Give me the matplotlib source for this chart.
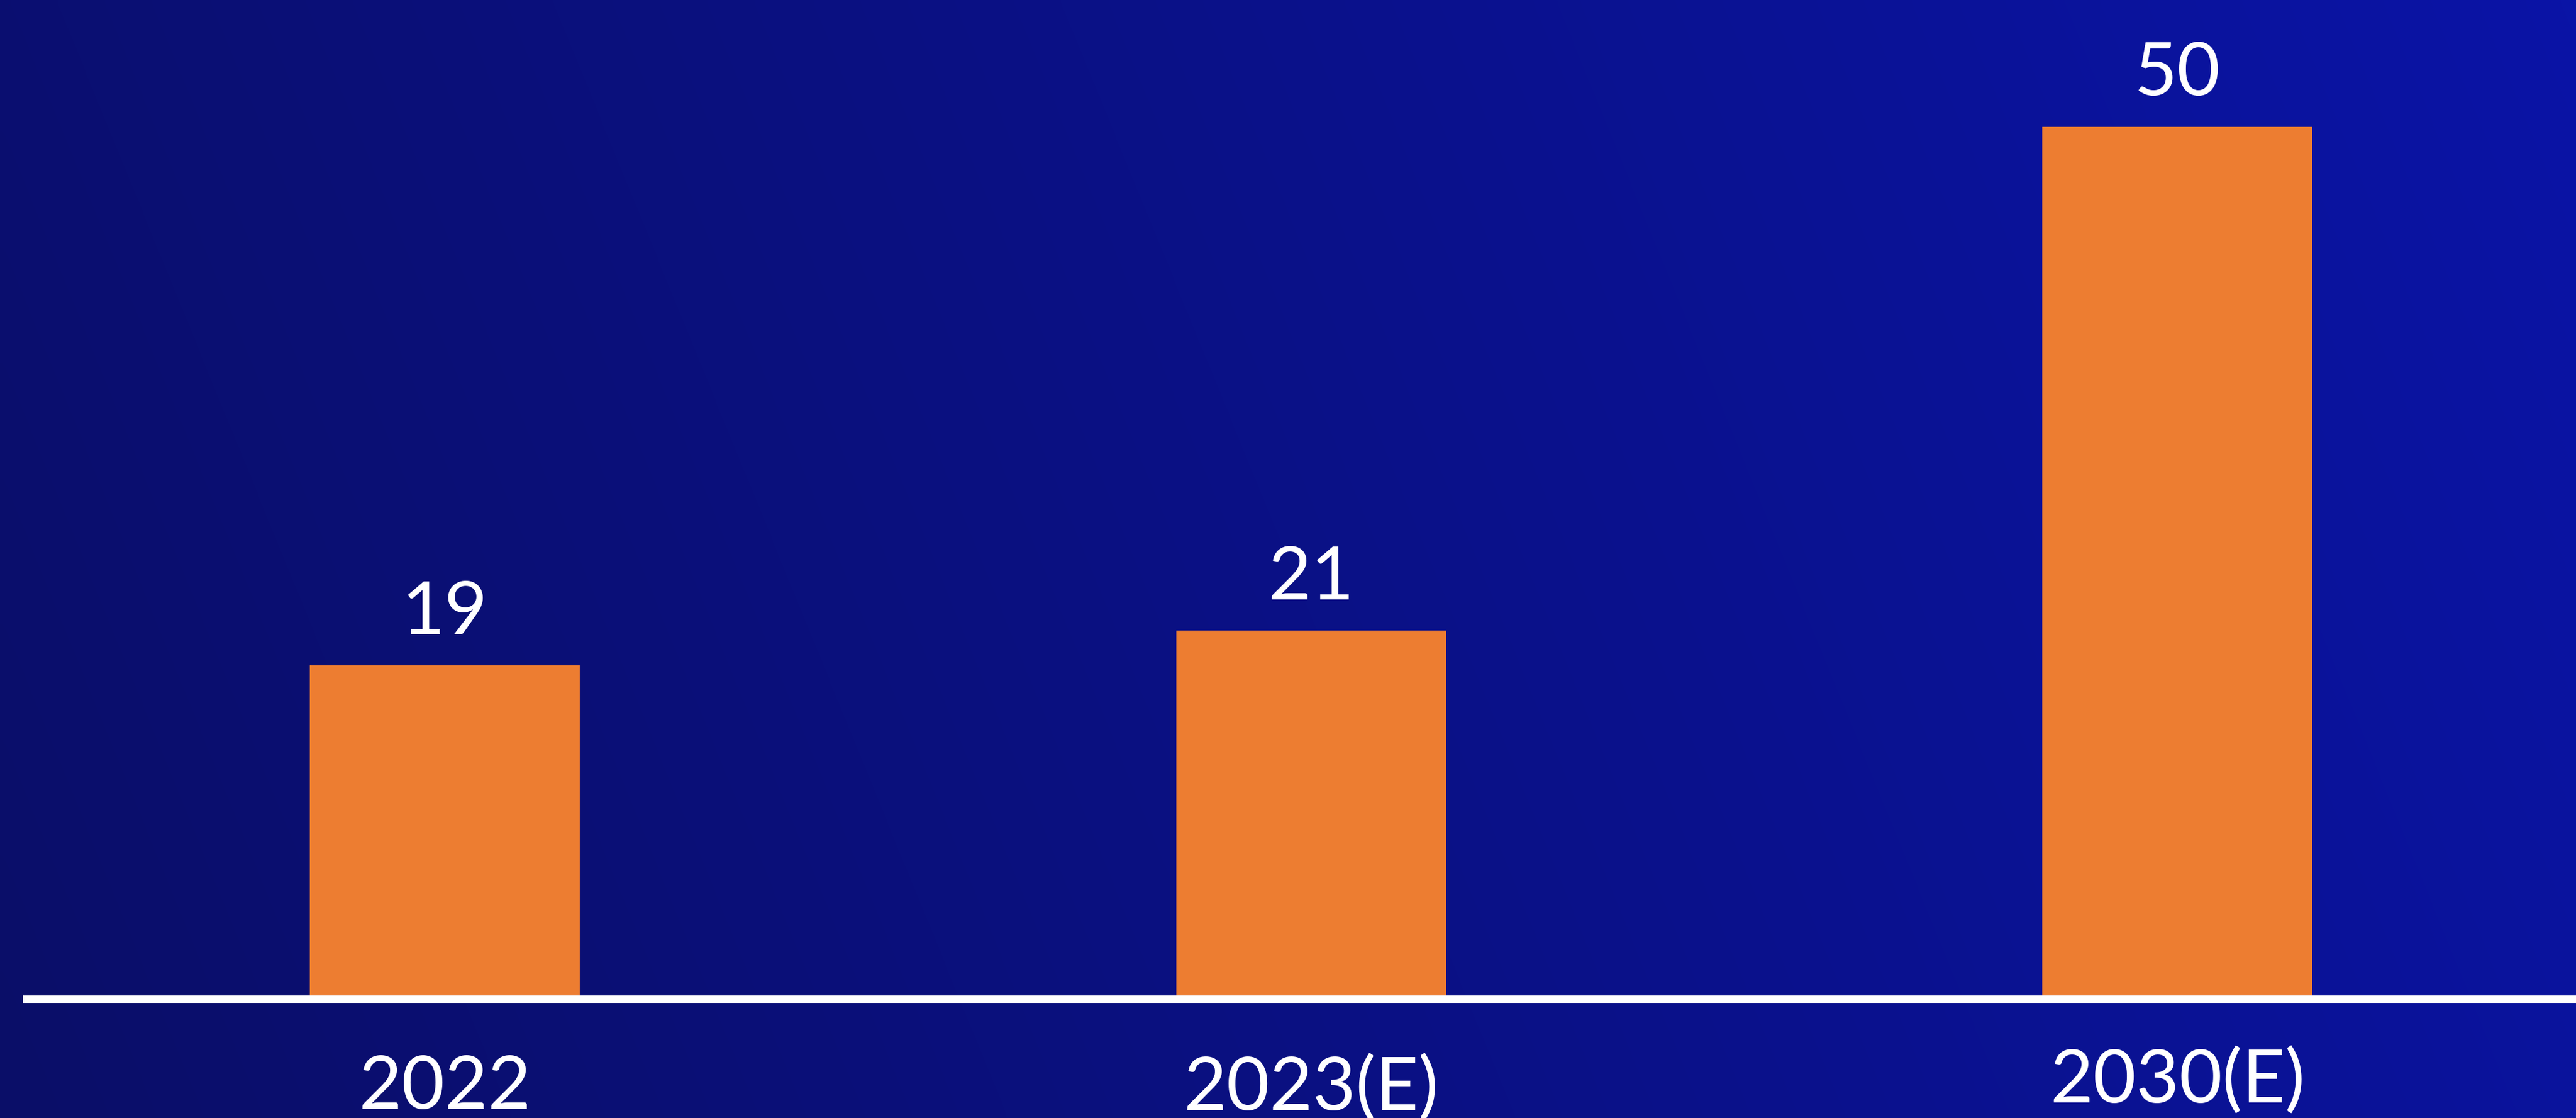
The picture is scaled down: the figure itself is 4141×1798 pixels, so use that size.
import numpy as np
from matplotlib import pyplot as plt
from matplotlib.colors import LinearSegmentedColormap

# data
years = ['2022', '2023(E)', '2030(E)']
values = [19, 21, 50]

# style
bar_color = '#ED7D31'
label_drop = [131, 133, 124]   # pt below the baseline for each year label

plt.rcParams['font.family'] = ['Lato', 'DejaVu Sans']

W, H, DPI = 4141, 1798, 100
fig = plt.figure(figsize=(W / DPI, H / DPI), dpi=DPI)

# gradient background
bg = fig.add_axes([0, 0, 1, 1], zorder=-1)
gx, gy = np.meshgrid(np.linspace(0, 1, 400), np.linspace(1, 0, 200))
grad = np.clip(0.85 * gx + 0.15 * gy, 0, 1)
cmap = LinearSegmentedColormap.from_list('bg', ['#0a0e68', '#0a1186', '#0a14a6'])
bg.imshow(grad, cmap=cmap, aspect='auto', extent=[0, 1, 0, 1], interpolation='bicubic')
bg.axis('off')

# main axes: baseline at 1601 px from top, starts at x=37 px
left_px, base_px = 37, 1601
x0_px, step_px = 715, 1392.5
ax = fig.add_axes([left_px / W, (H - base_px) / H, 1 - left_px / W, base_px / H])
ax.set_facecolor('none')
ax.set_xlim((left_px - x0_px) / step_px, (W - x0_px) / step_px)
ax.set_ylim(0, base_px / 27.95)

x = np.arange(len(years))
bars = ax.bar(x, values, width=434 / step_px, color=bar_color, zorder=2)

for xi, v in zip(x, values):
    ax.annotate(str(v), (xi, v), xytext=(0, 36), textcoords='offset points',
                ha='center', va='baseline', color='white', fontsize=86)

for xi, lab, d in zip(x, years, label_drop):
    ax.annotate(lab, (xi, 0), xycoords=('data', 'axes fraction'),
                xytext=(0, -d), textcoords='offset points',
                ha='center', va='baseline', color='white', fontsize=86,
                annotation_clip=False)

for s in ['top', 'right', 'left']:
    ax.spines[s].set_visible(False)
ax.spines['bottom'].set_color('white')
ax.spines['bottom'].set_linewidth(8.6)
ax.spines['bottom'].set_position(('outward', 4.3))
ax.spines['bottom'].set_capstyle('butt')
ax.set_xticks([])
ax.set_yticks([])

fig.savefig('out.png', dpi=DPI)
